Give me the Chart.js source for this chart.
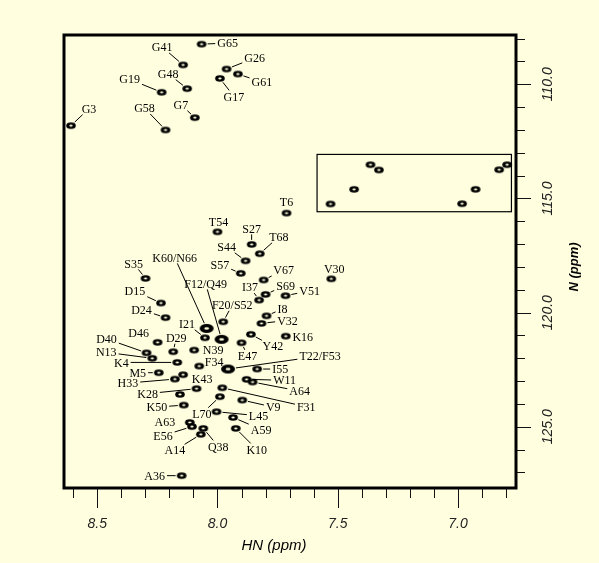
<!DOCTYPE html>
<html>
<head>
<meta charset="utf-8">
<script src="https://cdn.jsdelivr.net/npm/chart.js@4/dist/chart.umd.min.js"></script>
<style>
  html, body { margin: 0; padding: 0; background: #ffffe0; }
  canvas { display: block; }
</style>
</head>
<body>
<canvas id="hsqc" width="599" height="563"></canvas>
<script>
// assigned peaks: name, 1H shift (ppm), 15N shift (ppm)
const peakNames = ["G65","G41","G26","G61","G17","G48","G19","G7","G58","G3",
  "T6","T54","S27","T68","S44","S57","S35","V67","V30","S69","V51","I37","D15",
  "I8","V32","D24","F20/S52","K60/N66","F12/Q49","I21","Y42","K16","E47","D46",
  "D29","N39","D40","N13","K4","F34","T22/F53","I55","M5","K43","H33","W11","A64",
  "K28","F31","L70","V9","K50","","A63","E56","A14","Q38","L45","A59","K10","A36"];
const peakHN = [8.066,8.143,7.962,7.915,7.990,8.126,8.232,8.094,8.216,8.609,
  7.713,8.000,7.858,7.824,7.883,7.903,8.299,7.808,7.527,7.800,7.717,7.827,8.235,
  7.796,7.817,8.216,7.976,8.045,7.983,8.052,7.861,7.716,7.900,8.249,
  8.184,8.097,8.295,8.271,8.167,8.076,7.956,7.835,8.244,8.143,8.177,7.879,7.854,
  8.087,7.980,7.990,7.897,8.140,8.156,8.115,8.106,8.069,8.059,8.004,7.935,7.924,8.149];
const peakN = [108.24,109.15,109.33,109.55,109.74,110.19,110.35,111.46,112.00,111.81,
  115.64,116.46,117.01,117.42,117.73,118.28,118.50,118.57,118.52,119.20,119.26,119.45,119.58,
  120.14,120.47,120.22,120.40,120.69,121.17,121.10,120.95,121.03,121.32,121.30,
  121.71,121.64,121.76,122.00,122.18,122.34,122.47,122.47,122.63,122.72,122.91,122.92,123.04,
  123.33,123.29,123.68,123.83,124.05,123.58,124.81,124.99,125.33,125.07,124.34,124.59,125.07,127.14];

// side-chain peaks inside the boxed region
const boxHN = [7.364,7.329,7.432,7.530,6.983,6.927,6.829,6.796];
const boxN = [113.52,113.75,114.60,115.24,115.23,114.60,113.74,113.52];
const boxRange = { h1: 7.586, h2: 6.778, n1: 113.07, n2: 115.58 };

const hnTicks = [8.6,8.5,8.4,8.3,8.2,8.1,8.0,7.9,7.8,7.7,7.6,7.5,7.4,7.3,7.2,7.1,7.0,6.9,6.8];
const hnLabels = [8.5, 8.0, 7.5, 7.0];
const nTicks = [108,109,110,111,112,113,114,115,116,117,118,119,120,121,122,123,124,125,126,127];
const nLabels = [110, 115, 120, 125];

// label placement (pixel offset of label centre from its peak)
const labelOffset = {
  "G65":[26,-1],"G41":[-21,-18],"G26":[28,-11],"G61":[24,8],"G17":[14,18],"G48":[-19,-15],
  "G19":[-32,-13],"G7":[-14,-13],"G58":[-21,-22],"G3":[18,-17],"T6":[0,-11],"T54":[1,-10],
  "S27":[0,-16],"T68":[19,-17],"S44":[-19,-14],"S57":[-21,-9],"S35":[-12,-15],"V67":[20,-10],
  "V30":[3,-10],"S69":[20,-9],"V51":[24,-5],"I37":[-9,-13],"D15":[-26,-12],"I8":[16,-7],
  "V32":[26,-3],"D24":[-24,-8],"F20/S52":[9,-17],"K60/N66":[-32,-71],"F12/Q49":[-16,-56],
  "I21":[-18,-14],"Y42":[22,12],"K16":[17,1],"E47":[6,13],"D46":[-19,-9],"D29":[3,-14],
  "N39":[19,0],"D40":[-40,-14],"N13":[-46,-6],"K4":[-56,0],"F34":[15,-4],"T22/F53":[92,-13],
  "I55":[23,0],"M5":[-21,0],"K43":[19,4],"H33":[-47,4],"W11":[38,1],"A64":[47,9],
  "K28":[-49,5],"F31":[84,19],"L70":[-18,17],"V9":[31,7],"K50":[-27,2],"A63":[-25,-1],
  "E56":[-29,9],"A14":[-26,16],"Q38":[15,18],"L45":[42,4],"A59":[28,12],"K10":[21,21],"A36":[-27,0]
};
const noLeader = ["T6","T54","V30","K16","A63"];
const bigPeaks = ["K60/N66","T22/F53","F12/Q49"];

const BG = "#ffffe0";

function makePeak(rx, ry) {
  const c = document.createElement("canvas");
  c.width = Math.ceil(rx * 2 + 2);
  c.height = Math.ceil(ry * 2 + 2);
  const g = c.getContext("2d");
  g.fillStyle = "#000";
  g.beginPath();
  g.ellipse(c.width / 2, c.height / 2, rx, ry, 0, 0, Math.PI * 2);
  g.fill();
  g.fillStyle = BG;
  g.beginPath();
  g.ellipse(c.width / 2, c.height / 2, rx * 0.35, ry * 0.3, 0, 0, Math.PI * 2);
  g.fill();
  return c;
}
const peakSmall = makePeak(4.8, 3.3);
const peakBig = makePeak(7, 4.5);

const framePlugin = {
  id: "frame",
  afterDatasetsDraw(chart) {
    const { ctx, chartArea: a, scales } = chart;
    const xs = scales.x, ys = scales.y;
    ctx.save();

    // boxed region
    ctx.strokeStyle = "#000";
    ctx.lineWidth = 1.2;
    const bx1 = xs.getPixelForValue(boxRange.h1), bx2 = xs.getPixelForValue(boxRange.h2);
    const by1 = ys.getPixelForValue(boxRange.n1), by2 = ys.getPixelForValue(boxRange.n2);
    ctx.strokeRect(bx1, by1, bx2 - bx1, by2 - by1);

    // peak labels with leader lines
    ctx.font = "12px 'Liberation Serif', 'Times New Roman', serif";
    ctx.textAlign = "center";
    ctx.textBaseline = "middle";
    ctx.fillStyle = "#000";
    ctx.lineWidth = 1;
    peakNames.forEach((name, i) => {
      if (!name) return;
      const off = labelOffset[name];
      const px = xs.getPixelForValue(peakHN[i]);
      const py = ys.getPixelForValue(peakN[i]);
      const lx = px + off[0], ly = py + off[1];
      ctx.fillText(name, lx, ly + 1);
      if (noLeader.includes(name)) return;
      const hw = ctx.measureText(name).width / 2 + 2, hh = 6;
      let dx = px - lx, dy = py - ly;
      const len = Math.hypot(dx, dy);
      const ux = dx / len, uy = dy / len;
      const t = Math.min(Math.abs(ux) > 1e-6 ? hw / Math.abs(ux) : 1e9, Math.abs(uy) > 1e-6 ? hh / Math.abs(uy) : 1e9);
      const big = bigPeaks.includes(name);
      const rx = big ? 8 : 6, ry = big ? 5.5 : 4.5;
      const r = 1 / Math.hypot(ux / rx, uy / ry);
      const sx = lx + ux * t, sy = ly + uy * t;
      const ex = px - ux * r, ey = py - uy * r;
      if ((ex - sx) * ux + (ey - sy) * uy < 2) return;
      ctx.beginPath();
      ctx.moveTo(sx, sy);
      ctx.lineTo(ex, ey);
      ctx.stroke();
    });

    // frame
    ctx.lineWidth = 3;
    ctx.strokeStyle = "#000";
    ctx.strokeRect(a.left, a.top, a.right - a.left, a.bottom - a.top);

    // HN ticks (bottom)
    ctx.lineWidth = 1;
    ctx.strokeStyle = "#111";
    hnTicks.forEach(v => {
      const x = Math.round(xs.getPixelForValue(v)) + 0.5;
      const major = hnLabels.some(m => Math.abs(m - v) < 1e-6);
      ctx.beginPath();
      ctx.moveTo(x, a.bottom + 1);
      ctx.lineTo(x, a.bottom + (major ? 20 : 10));
      ctx.stroke();
    });
    // N ticks (right)
    nTicks.forEach(v => {
      const y = Math.round(ys.getPixelForValue(v)) + 0.5;
      const major = nLabels.includes(v);
      ctx.beginPath();
      ctx.moveTo(a.right + 1, y);
      ctx.lineTo(a.right + (major ? 15 : 9), y);
      ctx.stroke();
    });

    // tick labels
    ctx.fillStyle = "#222";
    ctx.font = "italic 14px 'Liberation Sans', Arial, sans-serif";
    ctx.textAlign = "center";
    ctx.textBaseline = "middle";
    hnLabels.forEach(v => ctx.fillText(v.toFixed(1), xs.getPixelForValue(v), a.bottom + 36));
    nLabels.forEach(v => {
      ctx.save();
      ctx.translate(a.right + 32, ys.getPixelForValue(v));
      ctx.rotate(-Math.PI / 2);
      ctx.fillText(v.toFixed(1), 0, 0);
      ctx.restore();
    });

    // axis titles
    ctx.fillStyle = "#000";
    ctx.font = "italic 15px 'Liberation Sans', Arial, sans-serif";
    ctx.fillText("HN (ppm)", a.left + 210, a.bottom + 58);
    ctx.save();
    ctx.font = "italic bold 13px 'Liberation Sans', Arial, sans-serif";
    ctx.translate(a.right + 58, 267);
    ctx.rotate(-Math.PI / 2);
    ctx.fillText("N (ppm)", 0, 0);
    ctx.restore();

    ctx.restore();
  }
};

new Chart(document.getElementById("hsqc"), {
  type: "scatter",
  data: {
    datasets: [
      {
        data: peakHN.map((h, i) => ({ x: h, y: peakN[i] })),
        pointStyle: c => bigPeaks.includes(peakNames[c.dataIndex]) ? peakBig : peakSmall
      },
      {
        data: boxHN.map((h, i) => ({ x: h, y: boxN[i] })),
        pointStyle: peakSmall
      }
    ]
  },
  options: {
    responsive: false,
    animation: false,
    layout: { padding: { left: 64, right: 83, top: 35, bottom: 75 } },
    scales: {
      x: { type: "linear", min: 6.759, max: 8.638, reverse: true, display: false },
      y: { type: "linear", min: 107.84, max: 127.68, reverse: true, display: false }
    },
    plugins: { legend: { display: false }, tooltip: { enabled: false } }
  },
  plugins: [framePlugin]
});
</script>
</body>
</html>
